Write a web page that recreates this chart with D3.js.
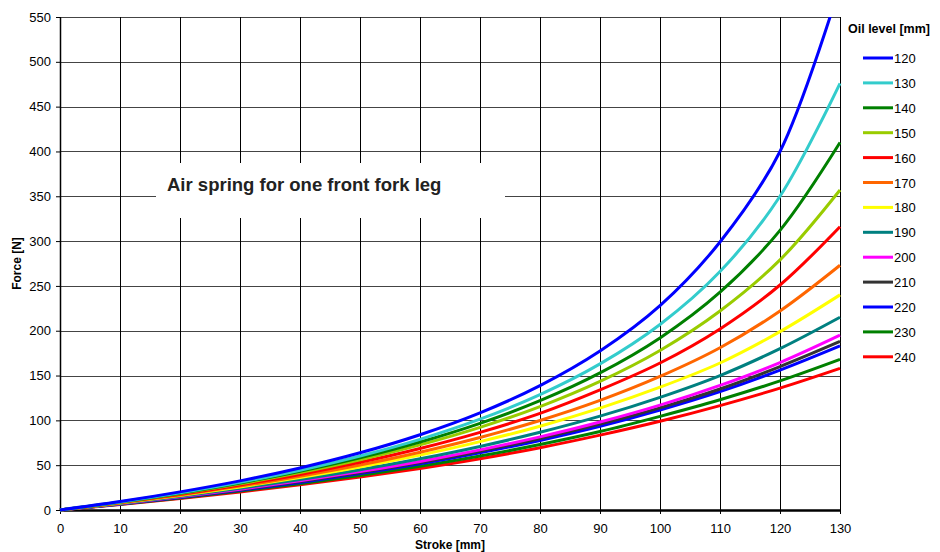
<!DOCTYPE html>
<html>
<head>
<meta charset="utf-8">
<script src="https://cdn.jsdelivr.net/npm/d3@7"></script>
<style>
  body { margin: 0; background: #fff; }
  text { font-family: "Liberation Sans", Arial, sans-serif; }
</style>
</head>
<body>
<div id="chart-area"></div>
<script>
// Stroke positions [mm]
var stroke = [0, 10, 20, 30, 40, 50, 60, 70, 80, 90, 100, 110, 120, 130];

// Force [N] for each oil level
var f120 = [0, 9.4, 20.2, 32.5, 46.9, 63.8, 84.0, 108.4, 138.8, 177.4, 228, 299, 400, 585];
var f130 = [0, 9.0, 19.2, 30.9, 44.4, 60.2, 78.8, 101.3, 128.7, 163, 207, 266, 350, 476];
var f140 = [0, 8.8, 18.8, 30.2, 43.2, 58.2, 75.8, 96.7, 122, 153, 192, 243, 312, 410];
var f150 = [0, 8.6, 18.4, 29.3, 41.8, 56.1, 72.7, 92.2, 115.4, 143.5, 178, 222, 279, 357];
var f160 = [0, 8.3, 17.6, 28.0, 39.7, 53.2, 68.6, 86.6, 107.8, 134, 164, 202, 251, 316];
var f170 = [0, 8.0, 16.8, 26.7, 37.7, 50.2, 64.5, 80.9, 99.9, 122.3, 149, 181, 222, 273];
var f180 = [0, 7.7, 16.2, 25.7, 36.2, 47.9, 61.2, 76.3, 93.5, 113.6, 137, 164, 199, 240];
var f190 = [0, 7.3, 15.3, 24.2, 34.0, 44.9, 57.1, 70.9, 86.7, 104.7, 125.7, 150, 180, 215];
var f200 = [0, 7.0, 14.7, 23.2, 32.5, 42.8, 54.2, 67.1, 81.6, 98.1, 117, 139, 164.5, 195];
var f210 = [0, 6.9, 14.4, 22.7, 31.8, 41.8, 53.0, 65.6, 79.8, 95.8, 114, 135, 160, 188];
var f220 = [0, 6.7, 14.0, 22.0, 30.8, 40.6, 51.5, 63.8, 77.6, 93.3, 111.5, 132, 156, 183];
var f230 = [0, 6.5, 13.5, 21.1, 29.4, 38.6, 48.8, 60.2, 73.0, 87.5, 104.5, 123, 144, 168];
var f240 = [0, 6.2, 12.9, 20.2, 28.1, 36.8, 46.4, 57.2, 69.5, 83.5, 99, 116.5, 136, 158];

var oilLevels = ["120", "130", "140", "150", "160", "170", "180", "190", "200", "210", "220", "230", "240"];
var forces = [f120, f130, f140, f150, f160, f170, f180, f190, f200, f210, f220, f230, f240];
var colors = ["#0000ff", "#33cccc", "#008000", "#99cc00", "#ff0000", "#ff6600", "#ffff00",
              "#008080", "#ff00ff", "#333333", "#0000ff", "#008000", "#ff0000"];

var xTicks = d3.range(0, 131, 10);
var yTicks = d3.range(0, 551, 50);

var margin = { top: 17, right: 100, bottom: 42, left: 60 };
var width = 940 - margin.left - margin.right,
    height = 552 - margin.top - margin.bottom;

var svg = d3.select("#chart-area")
  .append("svg")
    .attr("width", 940)
    .attr("height", 552);

var g = svg.append("g")
  .attr("transform", `translate(${margin.left},${margin.top})`);

var x = d3.scaleLinear().domain([0, 130]).range([0, width]);
var y = d3.scaleLinear().domain([0, 550]).range([height, 0]);

// grid
g.append("g")
  .selectAll("line")
  .data(yTicks)
  .enter()
  .append("line")
    .attr("x1", 0)
    .attr("x2", width)
    .attr("y1", (d) => Math.round(y(d)) + 0.5)
    .attr("y2", (d) => Math.round(y(d)) + 0.5)
    .attr("stroke", "#444")
    .attr("stroke-width", 1);

g.append("g")
  .selectAll("line")
  .data(xTicks)
  .enter()
  .append("line")
    .attr("x1", (d) => Math.round(x(d)) + 0.5)
    .attr("x2", (d) => Math.round(x(d)) + 0.5)
    .attr("y1", 0)
    .attr("y2", height)
    .attr("stroke", "#000")
    .attr("stroke-width", 1);

// axes
var xAxisCall = d3.axisBottom(x).tickValues(xTicks).tickSize(4).tickSizeOuter(0);
var yAxisCall = d3.axisLeft(y).tickValues(yTicks).tickSize(4).tickSizeOuter(0);

var xAxis = g.append("g")
  .attr("transform", `translate(0,${height})`)
  .call(xAxisCall);
xAxis.select(".domain").attr("stroke", "#000").attr("stroke-width", 2.5);
xAxis.selectAll("text").attr("font-size", 13).attr("fill", "#000").attr("dy", "1.2em")
  .attr("font-family", "Liberation Sans, Arial, sans-serif");

var yAxis = g.append("g").call(yAxisCall);
yAxis.select(".domain").attr("stroke", "#000").attr("stroke-width", 1.5);
yAxis.selectAll("text").attr("font-size", 13).attr("fill", "#000").attr("x", -9)
  .attr("font-family", "Liberation Sans, Arial, sans-serif");

// clip
g.append("clipPath").attr("id", "plot-clip")
  .append("rect").attr("x", -2).attr("y", 0).attr("width", width + 4).attr("height", height + 2);

var line = d3.line()
  .x((d, i) => x(stroke[i]))
  .y((d) => y(d))
  .curve(d3.curveCatmullRom.alpha(0.5));

// draw in reverse so the lowest level ends up underneath the higher ones
var series = oilLevels.map((lvl, i) => ({ level: lvl, values: forces[i], color: colors[i] }));

g.append("g")
  .attr("clip-path", "url(#plot-clip)")
  .selectAll("path")
  .data(series.slice().reverse())
  .enter()
  .append("path")
    .attr("d", (d) => line(d.values))
    .attr("fill", "none")
    .attr("stroke", (d) => d.color)
    .attr("stroke-width", 3);

// annotation box
g.append("rect")
  .attr("x", 96)
  .attr("y", 146)
  .attr("width", 349)
  .attr("height", 55)
  .attr("fill", "#fff");

g.append("text")
  .attr("x", 107)
  .attr("y", 174)
  .attr("font-size", 18.5)
  .attr("font-weight", "bold")
  .attr("fill", "#222")
  .text("Air spring for one front fork leg");

// axis labels
svg.append("text")
  .attr("x", margin.left + width / 2)
  .attr("y", 549)
  .attr("font-size", 12)
  .attr("font-weight", "bold")
  .attr("text-anchor", "middle")
  .text("Stroke [mm]");

svg.append("text")
  .attr("x", -(margin.top + height / 2))
  .attr("y", 21)
  .attr("font-size", 12)
  .attr("font-weight", "bold")
  .attr("text-anchor", "middle")
  .attr("transform", "rotate(-90)")
  .text("Force [N]");

// legend
var legend = svg.append("g").attr("transform", "translate(848,0)");

legend.append("text")
  .attr("x", 0)
  .attr("y", 33)
  .attr("font-size", 12.5)
  .attr("font-weight", "bold")
  .text("Oil level [mm]");

var items = legend.selectAll(".item")
  .data(series)
  .enter()
  .append("g")
    .attr("class", "item")
    .attr("transform", (d, i) => `translate(0,${58 + i * 24.9})`);

items.append("line")
  .attr("x1", 15)
  .attr("x2", 45)
  .attr("y1", 0)
  .attr("y2", 0)
  .attr("stroke", (d) => d.color)
  .attr("stroke-width", 3);

items.append("text")
  .attr("x", 46)
  .attr("y", 5)
  .attr("font-size", 13)
  .text((d) => d.level);
</script>
</body>
</html>
